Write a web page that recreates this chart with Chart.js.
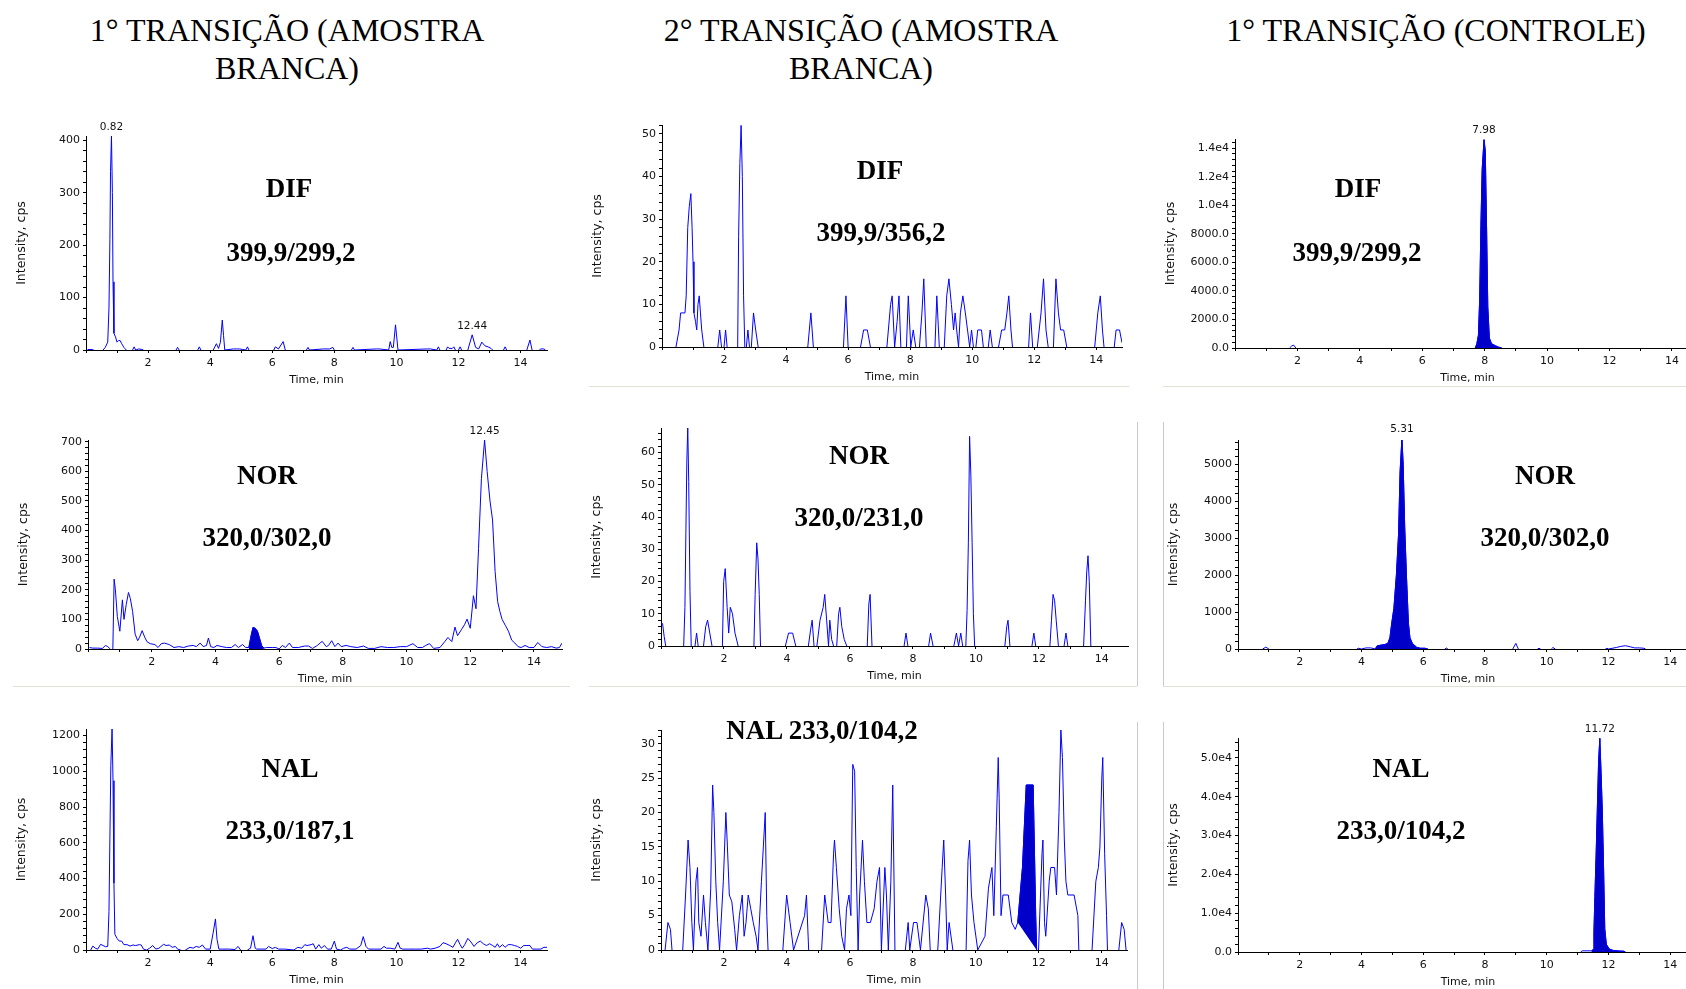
<!DOCTYPE html>
<html>
<head>
<meta charset="utf-8">
<script src="https://cdn.jsdelivr.net/npm/chart.js@4.4.1/dist/chart.umd.min.js"></script>
<style>
html,body{margin:0;padding:0;background:#fff;overflow:hidden;width:1686px;height:989px;position:relative}
.head{position:absolute;font-family:"Liberation Serif","Times New Roman",serif;font-size:32px;transform:translate(-50%,-50%);white-space:nowrap;color:#000;line-height:1}
.lab{position:absolute;font-family:"Liberation Serif","Times New Roman",serif;font-weight:bold;font-size:27px;transform:translate(-50%,-50%);white-space:nowrap;color:#000;line-height:1;z-index:2}
canvas{position:absolute}
.hline{position:absolute;height:1px;background:#e2dfd4}
.vline{position:absolute;width:1px;background:#c9c9c9}
</style>
</head>
<body>
<script>
// ---------- DATA ----------
// Panel 1: DIF 399,9/299,2 (blank, 1st transition)
const difBlank1Time = [0.05,0.2,0.25,0.55,0.62,0.7,0.74,0.77,0.79,0.82,0.85,0.87,0.9,0.95,1.0,1.05,1.1,1.15,1.22,1.3,1.5,1.55,1.6,1.7,1.8,1.85,2.9,2.95,3.0,3.6,3.65,3.7,4.1,4.2,4.27,4.33,4.39,4.43,4.47,4.75,4.85,4.95,5.05,5.15,5.2,5.25,6.05,6.1,6.2,6.35,6.42,7.1,7.15,7.2,7.65,7.85,7.95,8.0,8.55,8.6,8.65,9.35,9.45,9.75,9.8,9.85,9.9,9.97,10.05,11.0,11.1,11.3,11.35,11.4,11.6,11.65,11.7,11.8,11.85,11.9,12.0,12.05,12.1,12.3,12.44,12.55,12.65,12.75,12.85,12.95,13.05,13.1,13.45,13.5,13.55,14.2,14.3,14.37,14.6,14.65,14.75,14.8];
const difBlank1Int  = [1,1,0,0,5,15,80,210,340,408,300,130,32,25,15,18,18,12,5,0,0,6,0,2,1,0,0,5,0,0,6,0,0,12,3,15,57,28,0,2,2,2,1,0,6,0,0,6,2,16,0,0,5,0,2,2,5,0,0,5,0,2,2,0,16,5,5,48,0,2,2,0,6,0,0,6,3,3,6,0,0,6,0,0,29,5,2,15,8,6,3,0,0,6,0,0,19,0,0,2,2,0];

// Panel 2: DIF 399,9/356,2 (blank, 2nd transition)
const difBlank2Time = [0.45,0.55,0.6,0.74,0.78,0.83,0.88,0.93,0.97,1.0,1.03,1.08,1.12,1.16,1.2,1.24,1.28,1.35,1.8,1.86,1.92,2.0,2.05,2.1,2.44,2.47,2.51,2.55,2.59,2.63,2.67,2.72,2.77,2.82,2.88,2.95,3.02,3.1,4.7,4.8,4.88,5.85,5.93,6.0,6.4,6.5,6.62,6.72,7.25,7.37,7.42,7.5,7.58,7.64,7.7,7.88,7.94,8.02,8.1,8.18,8.3,8.38,8.44,8.52,8.8,8.86,8.94,9.1,9.18,9.25,9.33,9.4,9.45,9.5,9.56,9.62,9.7,9.78,9.85,9.92,9.98,10.04,10.12,10.18,10.3,10.36,10.52,10.58,10.65,10.85,10.95,11.05,11.12,11.18,11.25,11.3,11.82,11.88,11.95,12.1,12.22,12.3,12.38,12.45,12.62,12.7,12.78,12.85,12.95,13.05,13.95,14.05,14.13,14.2,14.25,14.58,14.64,14.75,14.83];
const difBlank2Int  = [0,4,8,8,12,28,33,36,28,20,8,6,4,10,12,8,4,0,0,4,0,0,4,0,0,26,43,52,40,12,0,0,4,0,0,8,4,0,0,8,0,0,12,0,0,4,4,0,0,10,12,0,6,12,0,0,12,0,4,0,0,8,16,0,0,12,0,0,12,16,10,4,8,4,0,8,12,8,4,0,4,0,0,4,4,0,0,4,0,0,4,4,8,12,4,0,0,8,0,0,8,16,4,0,0,16,8,4,4,0,0,8,12,4,0,0,4,4,1];

// Panel 3: DIF 399,9/299,2 (control)
const difCtrlTime = [0,1.75,1.82,1.88,1.95,7.7,7.75,7.8,7.84,7.88,7.92,7.98,8.02,8.06,8.1,8.15,8.22,8.35,8.45,8.55,14.9];
const difCtrlInt  = [0,0,150,200,0,0,300,900,3400,8600,12500,14600,13800,8600,2900,700,300,150,60,0,0];

// Panel 4: NOR 320,0/302,0 (blank, 1st transition)
const norBlank1Time = [0.05,0.15,0.3,0.45,0.55,0.62,0.7,0.78,0.82,0.86,0.92,1.0,1.08,1.13,1.2,1.27,1.33,1.4,1.48,1.56,1.62,1.7,1.78,1.85,1.95,2.1,2.2,2.3,2.4,2.55,2.7,2.85,3.0,3.15,3.3,3.4,3.52,3.62,3.72,3.78,3.85,3.95,4.05,4.2,4.35,4.5,4.62,4.72,4.85,4.95,5.05,5.12,5.18,5.25,5.32,5.38,5.45,5.52,5.6,5.8,5.9,6.0,6.1,6.2,6.32,6.42,6.6,6.8,6.92,7.05,7.2,7.35,7.48,7.55,7.65,7.75,7.85,7.95,8.1,8.25,8.45,8.65,8.8,9.0,9.2,9.4,9.6,9.8,10.0,10.2,10.35,10.5,10.6,10.72,10.85,11.05,11.2,11.3,11.42,11.52,11.6,11.72,11.82,11.9,12.0,12.1,12.18,12.26,12.35,12.45,12.53,12.62,12.7,12.78,12.86,12.93,13.0,13.1,13.2,13.3,13.4,13.5,13.6,13.72,13.85,14.0,14.12,14.25,14.4,14.55,14.7,14.8,14.88];
const norBlank1Int  = [5,3,3,2,12,8,0,0,236,200,110,60,166,100,150,191,170,127,50,28,40,62,40,25,18,15,5,18,20,15,5,8,5,10,12,8,20,8,12,37,8,5,12,8,5,5,15,5,15,5,5,45,73,70,60,38,12,3,5,5,5,0,12,5,20,5,5,10,10,2,12,26,8,12,28,8,20,8,12,8,5,10,2,2,8,5,5,8,8,18,5,5,12,18,2,5,25,39,25,74,45,65,82,101,70,180,136,340,576,706,600,500,436,262,160,127,100,80,60,30,20,8,5,12,5,5,22,8,5,8,3,5,20];

// Panel 5: NOR 320,0/231,0 (blank, 2nd transition)
const norBlank2Time = [0.0,0.05,0.1,0.15,0.72,0.76,0.79,0.82,0.85,0.88,0.92,0.96,1.08,1.13,1.18,1.35,1.42,1.48,1.55,1.62,1.95,1.99,2.04,2.1,2.15,2.2,2.27,2.35,2.45,2.95,2.99,3.04,3.08,3.12,3.16,3.95,4.05,4.18,4.28,4.68,4.75,4.8,4.86,4.95,5.05,5.15,5.2,5.26,5.32,5.36,5.42,5.48,5.58,5.64,5.68,5.74,5.82,5.9,6.55,6.6,6.64,6.7,7.72,7.78,7.84,8.5,8.56,8.64,9.3,9.38,9.45,9.52,9.58,9.68,9.72,9.76,9.8,9.84,9.88,9.92,9.96,10.92,10.98,11.02,11.08,11.78,11.84,11.9,12.35,12.4,12.45,12.5,12.55,12.62,12.8,12.86,12.92,13.42,13.48,13.52,13.56,13.6,13.65];
const norBlank2Int  = [7,7,3,0,0,12,35,57,68,51,17,0,0,4,0,0,6,8,4,0,0,20,24,12,4,12,10,4,0,0,16,32,27,16,0,0,4,4,0,0,5,8,0,0,8,12,16,8,0,8,2,0,0,10,12,6,2,0,0,13,16,0,0,4,0,0,4,0,0,4,0,4,0,0,11,32,65,53,32,10,0,0,6,8,0,0,4,0,0,8,16,14,8,0,0,4,0,0,14,23,28,20,0];

// Panel 6: NOR 320,0/302,0 (control)
const norCtrlTime = [0,0.8,0.9,1.0,3.85,3.9,4.0,4.15,4.3,4.45,4.5,4.6,4.75,4.85,4.92,4.98,5.05,5.13,5.2,5.25,5.31,5.35,5.4,5.46,5.52,5.57,5.65,5.78,5.9,6.05,6.15,6.7,6.75,6.8,8.9,9.0,9.08,9.7,9.75,9.8,10.15,10.2,10.28,11.9,11.95,12.0,12.25,12.4,12.55,12.7,12.85,13.0,13.15,13.2,14.9];
const norCtrlInt  = [0,0,50,0,0,20,0,30,30,0,80,100,120,150,300,700,1100,2000,3100,4800,5700,5000,3300,1900,700,300,150,50,20,20,0,0,25,0,0,153,0,0,20,0,0,40,0,0,20,0,40,70,90,60,30,30,20,0,0];

// Panel 7: NAL 233,0/187,1 (blank, 1st transition)
const nalBlank1Time = [0.05,0.15,0.22,0.3,0.38,0.47,0.55,0.63,0.7,0.74,0.77,0.8,0.84,0.87,0.9,0.93,1.0,1.07,1.15,1.22,1.32,1.42,1.52,1.6,1.72,1.78,1.85,1.95,2.05,2.15,2.25,2.35,2.5,2.58,2.68,2.78,2.88,2.95,3.05,3.2,3.35,3.45,3.55,3.65,3.75,3.85,4.0,4.1,4.17,4.22,4.28,4.4,4.6,4.8,4.9,4.98,5.2,5.3,5.38,5.45,5.5,5.8,5.88,6.0,6.1,6.2,6.4,6.7,6.82,6.95,7.05,7.12,7.25,7.32,7.4,7.5,7.58,7.68,7.78,7.9,8.0,8.07,8.2,8.3,8.4,8.5,8.7,8.85,8.93,9.02,9.1,9.3,9.5,9.6,9.68,9.8,9.95,10.05,10.12,10.2,10.4,10.6,10.8,11.0,11.1,11.25,11.4,11.5,11.6,11.72,11.82,11.9,11.97,12.05,12.12,12.2,12.3,12.4,12.5,12.6,12.7,12.8,12.9,13.0,13.1,13.18,13.25,13.32,13.42,13.5,13.6,13.7,13.8,13.9,14.0,14.1,14.2,14.3,14.38,14.5,14.65,14.75,14.85];
const nalBlank1Int  = [0,0,22,10,5,32,25,18,20,215,626,1034,1240,948,374,88,65,50,50,30,30,22,28,25,30,28,5,0,10,25,5,10,32,25,28,15,20,5,0,0,15,10,20,15,28,5,5,100,174,60,5,5,5,3,20,0,0,10,80,10,5,5,20,8,15,5,5,0,15,10,30,25,30,35,5,30,10,25,5,5,50,5,0,10,15,5,5,25,75,20,5,5,5,20,10,10,5,43,10,5,5,5,5,10,5,10,20,41,35,25,15,40,60,30,10,30,65,45,20,40,50,35,25,35,25,15,35,15,30,15,30,30,25,20,10,25,25,25,5,5,5,15,15];

// Panel 8: NAL 233,0/104,2 (blank, 2nd transition)
const nalBlank2Time = [0.13,0.22,0.3,0.35,0.69,0.78,0.86,0.92,0.98,1.03,1.11,1.16,1.2,1.27,1.35,1.41,1.49,1.58,1.64,1.68,1.74,1.8,1.86,1.98,2.06,2.11,2.17,2.25,2.34,2.4,2.49,2.58,2.64,2.7,2.77,2.85,2.93,3.02,3.08,3.19,3.25,3.31,3.36,3.4,3.87,3.99,4.1,4.21,4.56,4.62,4.69,5.1,5.2,5.31,5.4,5.48,5.51,5.57,5.66,5.74,5.83,5.89,5.97,6.03,6.09,6.15,6.2,6.26,6.31,6.4,6.46,6.54,6.65,6.77,6.86,6.94,7.0,7.11,7.16,7.22,7.3,7.36,7.43,7.76,7.85,7.9,8.02,8.13,8.24,8.41,8.49,8.55,8.79,8.93,8.98,9.04,9.09,9.15,9.27,9.69,9.75,9.8,9.86,9.94,10.06,10.29,10.4,10.51,10.57,10.65,10.71,10.74,10.8,10.86,11.03,11.14,11.25,11.33,11.48,11.6,11.82,11.9,11.93,11.99,12.1,12.13,12.18,12.22,12.33,12.38,12.5,12.56,12.64,12.7,12.75,12.81,12.86,12.92,13.12,13.24,13.27,13.69,13.81,13.89,13.94,14.0,14.03,14.09,14.15,14.18,14.54,14.63,14.71,14.77];
const nalBlank2Int  = [0,4,3,0,0,8,16,12,4,0,10,12,4,2,8,4,0,9,24,20,10,4,0,10,20,15,8,7,3,0,5,8,2,4,8,6,4,2,0,10,15,20,5,0,0,8,4,0,5,8,0,0,8,4,4,14,16,12,6,2,0,6,8,5,27,26,12,0,8,16,10,4,4,6,10,12,0,12,8,0,10,24,0,0,4,0,4,4,0,8,6,0,0,12,16,8,0,4,0,0,13,16,8,4,0,2,9,12,5,18,28,22,5,8,8,4,3,4,12,24,24,5,0,0,14,16,4,2,10,12,12,8,20,32,28,16,10,8,8,5,0,0,10,12,15,25,28,14,5,0,0,4,3,0];

// Panel 9: NAL 233,0/104,2 (control)
const nalCtrlTime = [0,11.1,11.15,11.45,11.5,11.53,11.56,11.6,11.64,11.68,11.72,11.76,11.8,11.84,11.88,11.93,12.02,12.15,12.35,12.5,12.55,14.9];
const nalCtrlInt  = [0,0,300,300,600,5300,14300,25000,37000,49000,55000,46200,36500,22300,6000,2000,800,400,250,200,0,0];

// integrated (filled) ranges, in minutes
const difCtrlFill = [7.7, 8.55];
const norBlank1Fill = [5.05, 5.52];
const norCtrlFill = [4.45, 6.15];
const nalBlank2Fill = [11.33, 11.93];
const nalCtrlFill = [11.45, 12.55];

// peak apex labels
const difBlank1Peaks = [[0.82, 408, '0.82'], [12.44, 29, '12.44']];
const difCtrlPeaks = [[7.98, 14600, '7.98']];
const norBlank1Peaks = [[12.45, 706, '12.45']];
const norCtrlPeaks = [[5.31, 5700, '5.31']];
const nalCtrlPeaks = [[11.72, 55000, '11.72']];

// column titles
const columnTitles = [
  ['1° TRANSIÇÃO (AMOSTRA', 'BRANCA)'],
  ['2° TRANSIÇÃO (AMOSTRA', 'BRANCA)'],
  ['1° TRANSIÇÃO (CONTROLE)']
];

// ---------- LAYOUT ----------
const panels = [
  {t: difBlank1Time, v: difBlank1Int, L: 86, R: 547, T: 136, B: 350, xMax: 14.85, yMax: 408, minor: 20, major: 100, peaks: difBlank1Peaks, fmt: 'int',
   labels: [['DIF', 289, 188], ['399,9/299,2', 291, 252]]},
  {t: difBlank2Time, v: difBlank2Int, L: 662, R: 1122, T: 125, B: 347, xMax: 14.83, yMax: 52.1, minor: 2, major: 10, fmt: 'int',
   labels: [['DIF', 880, 170], ['399,9/356,2', 881, 232]]},
  {t: difCtrlTime, v: difCtrlInt, L: 1235, R: 1700, T: 139, B: 348, xMax: 14.9, yMax: 14650, minor: 400, major: 2000, peaks: difCtrlPeaks, fill: difCtrlFill, fmt: 'sci',
   labels: [['DIF', 1358, 188], ['399,9/299,2', 1357, 252]]},
  {t: norBlank1Time, v: norBlank1Int, L: 88, R: 562, T: 440, B: 649, xMax: 14.88, yMax: 706, minor: 20, major: 100, peaks: norBlank1Peaks, fill: norBlank1Fill, fmt: 'int',
   labels: [['NOR', 267, 475], ['320,0/302,0', 267, 537]]},
  {t: norBlank2Time, v: norBlank2Int, L: 661, R: 1128, T: 428, B: 646, xMax: 14.83, yMax: 67.6, minor: 2, major: 10, fmt: 'int',
   labels: [['NOR', 859, 455], ['320,0/231,0', 859, 517]]},
  {t: norCtrlTime, v: norCtrlInt, L: 1238, R: 1698, T: 440, B: 649, xMax: 14.9, yMax: 5657, minor: 200, major: 1000, peaks: norCtrlPeaks, fill: norCtrlFill, fmt: 'int',
   labels: [['NOR', 1545, 475], ['320,0/302,0', 1545, 537]]},
  {t: nalBlank1Time, v: nalBlank1Int, L: 86, R: 547, T: 729, B: 950, xMax: 14.85, yMax: 1237, minor: 40, major: 200, fmt: 'int',
   labels: [['NAL', 290, 768], ['233,0/187,1', 290, 830]]},
  {t: nalBlank2Time, v: nalBlank2Int, L: 661, R: 1127, T: 730, B: 950, xMax: 14.8, yMax: 32, minor: 1, major: 5, fill: nalBlank2Fill, fillShape: true, fmt: 'int',
   labels: [['NAL 233,0/104,2', 822, 730]]},
  {t: nalCtrlTime, v: nalCtrlInt, L: 1238, R: 1698, T: 738, B: 952, xMax: 14.9, yMax: 55100, minor: 2000, major: 10000, peaks: nalCtrlPeaks, fill: nalCtrlFill, fmt: 'sci',
   labels: [['NAL', 1401, 768], ['233,0/104,2', 1401, 830]]}
];

const hLines = [[589, 386, 540], [1163, 386, 523], [13, 686, 557], [589, 686, 548], [1163, 686, 523]];
const vLines = [[1137, 422, 264], [1163, 422, 264], [1137, 722, 267], [1163, 722, 267]];

const headPos = [[287, 30, 68], [861, 30, 68], [1436, 30, 68]];

// ---------- BUILD ----------
const LINE = '#0000ff';
const FILLC = '#0000c8';
const TICKFONT = {family: '"DejaVu Sans", Verdana, sans-serif', size: 11};

columnTitles.forEach((lines, i) => {
  lines.forEach((txt, j) => {
    const d = document.createElement('div');
    d.className = 'head';
    d.textContent = txt;
    d.style.left = headPos[i][0] + 'px';
    d.style.top = headPos[i][1 + j] + 'px';
    document.body.appendChild(d);
  });
});
hLines.forEach(([x, y, w]) => {
  const d = document.createElement('div'); d.className = 'hline';
  d.style.left = x + 'px'; d.style.top = y + 'px'; d.style.width = w + 'px';
  document.body.appendChild(d);
});
vLines.forEach(([x, y, h]) => {
  const d = document.createElement('div'); d.className = 'vline';
  d.style.left = x + 'px'; d.style.top = y + 'px'; d.style.height = h + 'px';
  document.body.appendChild(d);
});

const peakLabelPlugin = {
  id: 'peakLabels',
  afterDatasetsDraw(chart, args, opts) {
    const items = opts.items || [];
    const ctx = chart.ctx;
    ctx.save();
    ctx.font = '10.5px "DejaVu Sans", Verdana, sans-serif';
    ctx.fillStyle = '#111';
    ctx.textAlign = 'center';
    ctx.textBaseline = 'middle';
    items.forEach(([x, y, txt]) => {
      ctx.fillText(txt, chart.scales.x.getPixelForValue(x), chart.scales.y.getPixelForValue(y) - 9);
    });
    ctx.restore();
  }
};

function fmtTick(v, p) {
  if (Math.round(v) % p.major !== 0) return '';
  if (p.fmt === 'sci') {
    if (v >= 10000) return (v / 10000).toFixed(1) + 'e4';
    return Number(v).toFixed(1);
  }
  return String(v);
}

function stepTicks(max, step) {
  const out = [];
  for (let i = 0; i * step <= max + 1e-9; i++) out.push({value: Math.round(i * step * 1000) / 1000});
  return out;
}

panels.forEach((p, idx) => {
  const YW = 80, XH = 40, PT = 22, PR = 8;
  const W = YW + (p.R - p.L) + PR;
  const H = PT + (p.B - p.T) + XH;
  const cv = document.createElement('canvas');
  cv.width = W; cv.height = H;
  cv.style.width = W + 'px'; cv.style.height = H + 'px';
  cv.style.left = (p.L - YW) + 'px';
  cv.style.top = (p.T - PT) + 'px';
  document.body.appendChild(cv);

  const pts = p.t.map((x, i) => ({x: x, y: p.v[i]}));
  const datasets = [{
    data: pts, borderColor: LINE, borderWidth: 1, pointRadius: 0, tension: 0, fill: false,
    segment: {borderColor: c => (c.p0.parsed.y === 0 && c.p1.parsed.y === 0) ? 'rgba(0,0,0,0)' : LINE}
  }];
  if (p.fill) {
    const fpts = pts.filter(q => q.x >= p.fill[0] && q.x <= p.fill[1]);
    datasets.push({
      data: fpts, borderColor: FILLC, backgroundColor: FILLC, borderWidth: 1, pointRadius: 0, tension: 0,
      fill: p.fillShape ? 'shape' : 'origin'
    });
  }

  new Chart(cv, {
    type: 'line',
    data: {datasets: datasets},
    plugins: [peakLabelPlugin],
    options: {
      responsive: false, animation: false, devicePixelRatio: 1,
      layout: {padding: {top: PT, right: PR, left: 0, bottom: 0}},
      plugins: {legend: {display: false}, tooltip: {enabled: false}, peakLabels: {items: p.peaks || []}},
      scales: {
        x: {
          type: 'linear', min: 0, max: p.xMax,
          afterFit: s => { s.height = XH; },
          afterBuildTicks: s => { s.ticks = stepTicks(p.xMax, 1); },
          border: {display: true, color: '#000', width: 1},
          grid: {drawOnChartArea: false, drawTicks: true, tickLength: 3, color: '#000', tickColor: '#000'},
          ticks: {autoSkip: false, maxRotation: 0, padding: 4, color: '#111', font: TICKFONT,
                  callback: v => (v > 0 && v % 2 === 0) ? String(v) : ''},
          title: {display: true, text: 'Time, min', color: '#111', font: TICKFONT, padding: {top: 0, bottom: 3}}
        },
        y: {
          type: 'linear', min: 0, max: p.yMax,
          afterFit: s => { s.width = YW; },
          afterBuildTicks: s => { s.ticks = stepTicks(p.yMax, p.minor); },
          border: {display: true, color: '#000', width: 1},
          grid: {drawOnChartArea: false, drawTicks: true, tickLength: 3, color: '#000', tickColor: '#000'},
          ticks: {autoSkip: false, padding: 3, color: '#111', font: TICKFONT,
                  callback: v => fmtTick(v, p)},
          title: {display: true, text: 'Intensity, cps', color: '#111', font: {family: '"DejaVu Sans", Verdana, sans-serif', size: 12.5}, padding: {top: 8, bottom: 0}}
        }
      }
    }
  });

  p.labels.forEach(([txt, x, y]) => {
    const d = document.createElement('div');
    d.className = 'lab';
    d.textContent = txt;
    d.style.left = x + 'px';
    d.style.top = y + 'px';
    document.body.appendChild(d);
  });
});
</script>
</body>
</html>
